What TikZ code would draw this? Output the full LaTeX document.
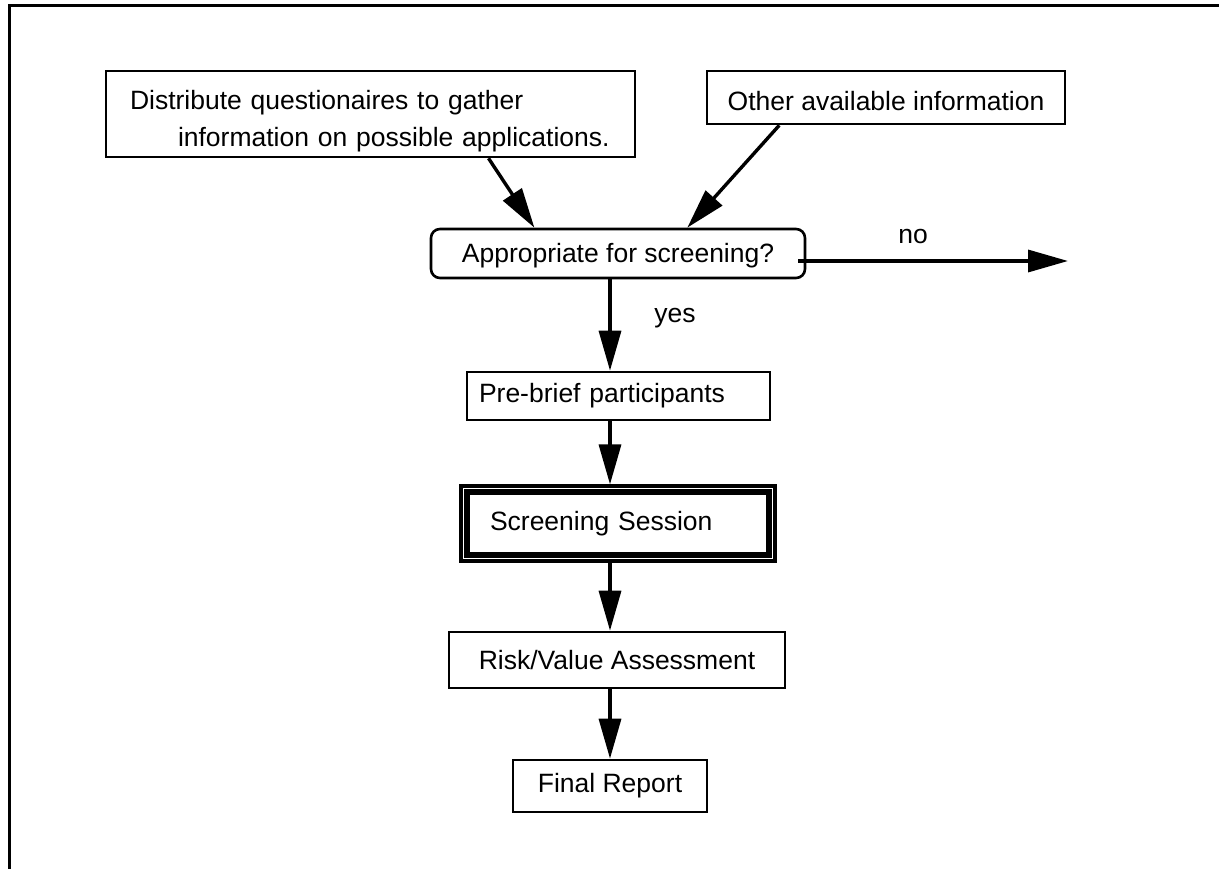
\documentclass[tikz,border=0pt]{standalone}
\usepackage{fontspec}
\setmainfont{Liberation Sans}
\usetikzlibrary{arrows.meta,calc}
\begin{document}
\begin{tikzpicture}[x=1pt,y=-1pt,
  every node/.style={font=\fontsize{26.5}{37}\selectfont},
  box/.style={draw, line width=2.6pt, rectangle, inner sep=0pt, fill=white},
  flow/.style={line width=3.4pt, -{Triangle[length=40pt,width=22pt]}},
  lbl/.style={inner sep=0pt}
]
\useasboundingbox (0,0) rectangle (1219,869);
% frame (top and left edges)
\draw[line width=3pt] (1219,6) -- (9,6) -- (9,869);

% boxes
\node[box, minimum width=529pt, minimum height=86pt, text width=481pt, inner xsep=24pt, align=left] (q) at (370.5,114)
  {\rule{0pt}{34pt}Distribute questionaires to gather\\\hspace*{48pt}information on possible applications.};
\node[box, minimum width=358pt, minimum height=53pt] (o) at (886,97.5) {\rule{0pt}{27pt}Other available information};
\node[box, rounded corners=9pt, minimum width=374pt, minimum height=49pt] (d) at (618,253.5) {\rule{0pt}{24pt}Appropriate for screening?};
\node[box, minimum width=303pt, minimum height=48pt, text width=279pt, inner xsep=12pt, align=left] (p) at (618.5,396) {Pre-brief participants};
\node[box, line width=3.2pt, minimum width=314pt, minimum height=75pt, text width=256pt, inner xsep=29pt, align=left] (s) at (618,523.5) {Screening Session};
\draw[line width=5.5pt] ([shift={(7.5,7.5)}]s.north west) rectangle ([shift={(-7.5,-7.5)}]s.south east);
\node[box, minimum width=336pt, minimum height=56pt] (r) at (617,660) {Risk/Value Assessment};
\node[box, minimum width=194pt, minimum height=52pt] (f) at (610,786) {Final Report};

% helper coordinates
\coordinate (ax) at (610,0);
\coordinate (noend) at (1068,261);

% connectors
\draw[flow] ($(q.south west)!0.722!(q.south east)$) -- ($(d.north west)!0.278!(d.north east)$);
\draw[flow] ($(o.south west)!0.204!(o.south east)$) -- ($(d.north west)!0.684!(d.north east)$);
\draw[flow] ([xshift=-8pt]d.east |- noend) -- (noend);
\draw[flow] (d.south -| ax) -- (p.north -| ax);
\draw[flow] (p.south -| ax) -- (s.north -| ax);
\draw[flow] (s.south -| ax) -- (r.north -| ax);
\draw[flow] (r.south -| ax) -- (f.north -| ax);

% labels
\node[lbl] (no) at (913,237) {no};
\node[lbl] (yes) at (675,318) {yes};
\end{tikzpicture}
\end{document}
